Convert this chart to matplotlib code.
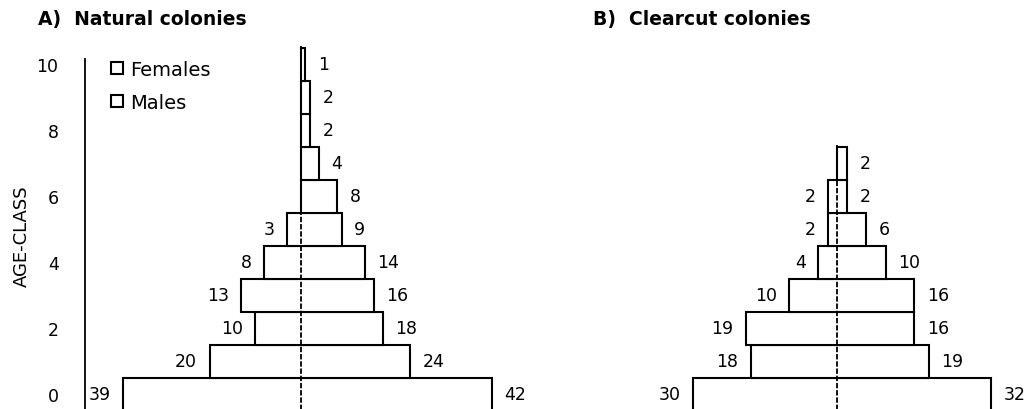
import numpy as np
import matplotlib
matplotlib.use("Agg")
import matplotlib.pyplot as plt
from matplotlib.lines import Line2D

plt.rcParams["font.family"] = ["DejaVu Sans"]

# ── data: counts per age-class (females left, males right) ───────────────────
age_classes      = np.arange(11)
natural_females  = [39, 20, 10, 13, 8, 3, 0, 0, 0, 0, 0]
natural_males    = [42, 24, 18, 16, 14, 9, 8, 4, 2, 2, 1]
clearcut_females = [30, 18, 19, 10, 4, 2, 2, 0, 0, 0, 0]
clearcut_males   = [32, 19, 16, 16, 10, 6, 2, 2, 0, 0, 0]
age_ticks        = [0, 2, 4, 6, 8, 10]

W, H = 1035, 410
NUM_FS = 12.5


def _pyramid(ax, females, males):
    """One horizontal bar per age class, from -females to +males, plus labels."""
    females = np.asarray(females)
    males = np.asarray(males)
    keep = (females + males) > 0
    ages = age_classes[keep]
    f = females[keep]
    m = males[keep]

    ax.barh(ages, f + m, left=-f, height=1.0, color="white",
            edgecolor="black", linewidth=1.5, zorder=2)
    ax.vlines(0, ages.min() - 0.5, ages.max() + 0.55, colors="black",
              linestyles=(0, (3, 1)), linewidth=1.3, zorder=3)

    for a, fv, mv in zip(ages, f, m):
        if fv > 0:
            ax.annotate(str(fv), xy=(-fv, a), xytext=(-9, 0),
                        textcoords="offset points", ha="right", va="center",
                        fontsize=NUM_FS)
        if mv > 0:
            ax.annotate(str(mv), xy=(mv, a), xytext=(9, 0),
                        textcoords="offset points", ha="left", va="center",
                        fontsize=NUM_FS)


fig = plt.figure(figsize=(W / 100, H / 100), dpi=100)

ax_h = 370 / H
ylim = (-0.4545, 10.758)

# ── A) natural colonies ──────────────────────────────────────────────────────
ax_a = fig.add_axes([85 / W, 0, 435 / W, ax_h])
_pyramid(ax_a, natural_females, natural_males)
ax_a.set_xlim(-47.35, 48.13)
ax_a.set_ylim(*ylim)
for s in ("top", "right", "bottom"):
    ax_a.spines[s].set_visible(False)
ax_a.spines["left"].set_linewidth(1.3)
ax_a.spines["left"].set_bounds(ylim[0], 10.15)
ax_a.set_xticks([])
ax_a.set_yticks(age_ticks)
ax_a.tick_params(axis="y", length=0, pad=19, labelsize=NUM_FS)
ax_a.set_ylabel("AGE-CLASS", fontsize=13)
ax_a.yaxis.set_label_coords(-0.124, 0.47)

handles = [Line2D([], [], marker="s", ls="none", mfc="white", mec="black",
                  mew=1.5, ms=9) for _ in range(2)]
ax_a.legend(handles, ["Females", "Males"], loc="upper left",
            bbox_to_anchor=((110 - 85) / 435, (410 - 61) / 370),
            frameon=False, fontsize=14, handlelength=0.7, handletextpad=0.35,
            labelspacing=0.72, borderpad=0, borderaxespad=0)

# ── B) clearcut colonies ─────────────────────────────────────────────────────
ax_b = fig.add_axes([600 / W, 0, 435 / W, ax_h])
_pyramid(ax_b, clearcut_females, clearcut_males)
ax_b.set_xlim(-49.4, 41.1)
ax_b.set_ylim(*ylim)
ax_b.axis("off")

fig.text(38 / W, 1 - 19 / H, "A)  Natural colonies", fontsize=13.5,
         fontweight="bold", ha="left", va="center")
fig.text(593 / W, 1 - 19 / H, "B)  Clearcut colonies", fontsize=13.5,
         fontweight="bold", ha="left", va="center")

fig.savefig("out.png", dpi=100)
